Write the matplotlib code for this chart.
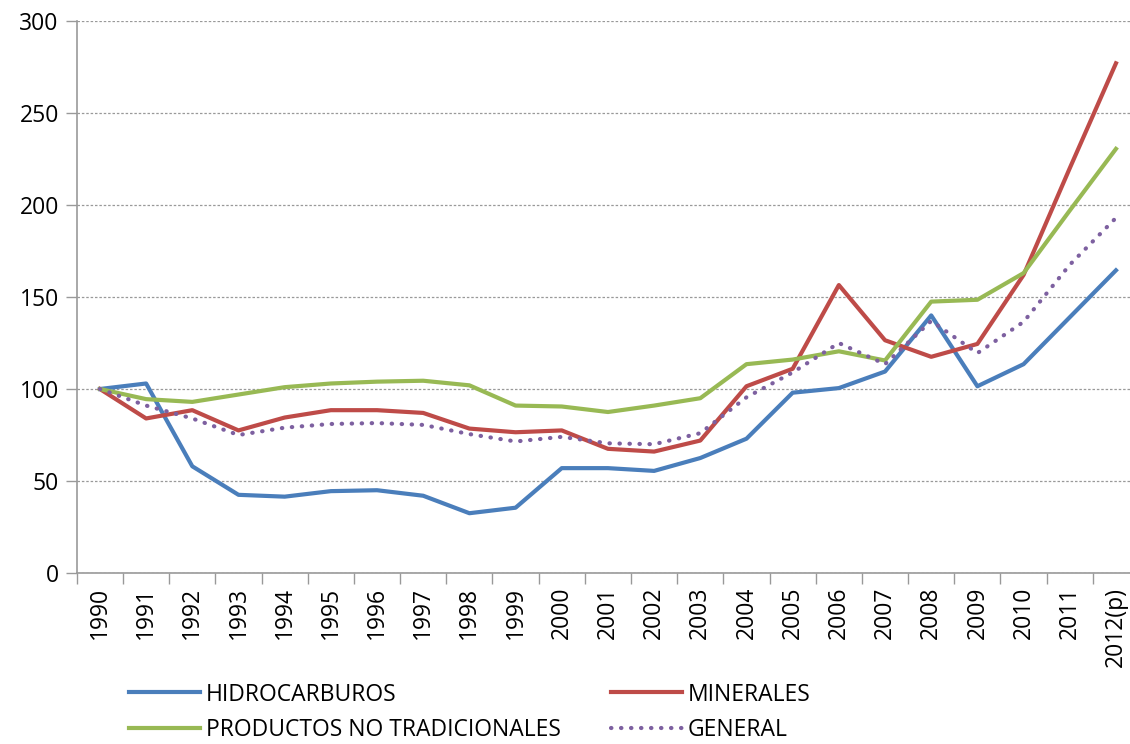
import matplotlib
matplotlib.use("Agg")
import matplotlib.pyplot as plt
import numpy as np

years = ["1990", "1991", "1992", "1993", "1994", "1995", "1996", "1997",
         "1998", "1999", "2000", "2001", "2002", "2003", "2004", "2005",
         "2006", "2007", "2008", "2009", "2010", "2011", "2012(p)"]

hidrocarburos = [100, 103, 58, 42.5, 41.5, 44.5, 45, 42, 32.5, 35.5, 57, 57,
                 55.5, 62.5, 73, 98, 100.5, 109.5, 140, 101.5, 113.5, 139, 164.5]
minerales = [100, 84, 88.5, 77.5, 84.5, 88.5, 88.5, 87, 78.5, 76.5, 77.5, 67.5,
             66, 72, 101.5, 111, 156.5, 126.5, 117.5, 124.5, 162, 220, 277]
no_tradicionales = [100, 94.5, 93, 97, 101, 103, 104, 104.5, 102, 91, 90.5, 87.5,
                    91, 95, 113.5, 116, 120.5, 115.5, 147.5, 148.5, 163, 197, 230.5]
general = [100, 91, 84, 75, 79, 81, 81.5, 80.5, 75.5, 71.5, 74, 70.5,
           70, 76, 95.5, 109, 125, 113.5, 137, 119.5, 136.5, 167.5, 193]

plt.rcParams['font.family'] = ['Open Sans', 'DejaVu Sans']

fig = plt.figure(figsize=(11.3, 7.44), dpi=100)
ax = fig.add_axes([0.068, 0.2298, 0.94, 0.742])

x = np.arange(len(years))
ax.plot(x, hidrocarburos, color='#4A7EBB', lw=3, solid_joinstyle='round', label='HIDROCARBUROS')
ax.plot(x, minerales, color='#BE4B48', lw=3, solid_joinstyle='round', label='MINERALES')
ax.plot(x, no_tradicionales, color='#98B954', lw=3, solid_joinstyle='round', label='PRODUCTOS NO TRADICIONALES')
ax.plot(x, general, color='#7D60A0', lw=3, linestyle=(0, (0.1, 2.3)),
        dash_capstyle='round', label='GENERAL')

ax.set_xlim(-0.5, len(years) - 0.5)
ax.set_ylim(0, 300)
ax.set_yticks(np.arange(0, 301, 50))
ax.yaxis.grid(True, linestyle=(0, (2, 1.5)), color='#999999', lw=0.9)
ax.set_axisbelow(True)

ax.set_xticks(x)
ax.set_xticklabels(years, rotation=90, fontsize=16.5)
ax.set_xticks(np.arange(-0.5, len(years), 1), minor=True)
ax.tick_params(axis='x', which='major', length=0, pad=10)
ax.tick_params(axis='x', which='minor', length=8, color='#999999', width=1)
ax.tick_params(axis='y', length=8, color='#999999', width=1, labelsize=16.5, pad=5)

for s in ['top', 'right']:
    ax.spines[s].set_visible(False)
for s in ['left', 'bottom']:
    ax.spines[s].set_color('#999999')
    ax.spines[s].set_linewidth(1.2)

h, l = ax.get_legend_handles_labels()
order = [0, 2, 1, 3]
fig.legend([h[i] for i in order], [l[i] for i in order], ncol=2,
           loc='lower left', bbox_to_anchor=(0.096, -0.025), frameon=False,
           fontsize=16.5, handlelength=3.1, handletextpad=0.25,
           columnspacing=2.2, labelspacing=0.5)

fig.savefig("out.png", dpi=100)
